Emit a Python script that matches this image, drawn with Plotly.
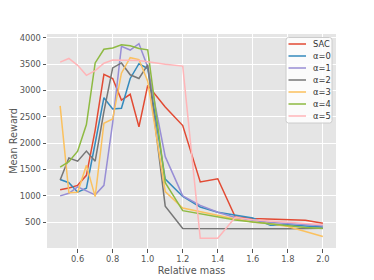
import plotly.graph_objects as go

relative_mass = [0.5, 0.55, 0.6, 0.65, 0.7, 0.75, 0.8, 0.85, 0.9, 0.95, 1.0,
                 1.1, 1.2, 1.3, 1.4, 1.5, 1.6, 1.7, 1.8, 1.9, 2.0]

sac = [1115, 1150, 1200, 1390, 2250, 3310, 3230, 2820, 2930, 2310, 3100,
       2690, 2335, 1265, 1325, 600, 570, 560, 545, 538, 478]
alpha0 = [1310, 1250, 1070, 1145, 2000, 2865, 2650, 2665, 3230, 3510, 3420,
          1320, 990, 790, 690, 638, 580, 440, 452, 430, 408]
alpha1 = [1000, 1050, 1170, 1100, 1020, 1200, 2390, 3840, 3770, 3890, 3450,
          1745, 1000, 820, 690, 590, 535, 495, 468, 455, 435]
alpha2 = [1300, 1720, 1660, 1850, 1660, 2600, 3430, 3525, 3300, 3230, 3490,
          805, 382, 378, 376, 375, 375, 376, 378, 380, 385]
alpha3 = [2710, 1060, 1070, 1580, 985, 2380, 2460, 3330, 3625, 3590, 3180,
          1080, 770, 700, 625, 562, 505, 470, 420, 320, 228]
alpha4 = [1545, 1650, 1850, 2355, 3525, 3785, 3810, 3870, 3850, 3800, 3775,
          1250, 720, 660, 590, 540, 505, 470, 425, 400, 382]
alpha5 = [3540, 3610, 3480, 3290, 3380, 3520, 3580, 3580, 3580, 3570, 3550,
          3500, 3465, 195, 195, 595, 545, 520, 500, 480, 452]

series_names = ["SAC", "α=0", "α=1", "α=2", "α=3", "α=4", "α=5"]
series_values = [sac, alpha0, alpha1, alpha2, alpha3, alpha4, alpha5]
colors = ["#E24A33", "#348ABD", "#988ED5", "#777777", "#FBC15E", "#8EBA42", "#FFB5B8"]

x_ticks = [0.6, 0.8, 1.0, 1.2, 1.4, 1.6, 1.8, 2.0]
x_tick_labels = ["0.6", "0.8", "1.0", "1.2", "1.4", "1.6", "1.8", "2.0"]
y_ticks = [500, 1000, 1500, 2000, 2500, 3000, 3500, 4000]

fig = go.Figure()
for name, vals, col in zip(series_names, series_values, colors):
    fig.add_trace(go.Scatter(x=relative_mass, y=vals, mode="lines", name=name,
                             line=dict(color=col, width=1.5), showlegend=False))

# Page has an 8px body margin; compensate so plot area sits at x 47..336, y 34..248
PAD = 8
W, H = 374, 280
L, R, T, B = 47 - PAD, W - (336 - PAD), 34 - PAD, H - (248 - PAD)
plot_w = W - L - R
plot_h = H - T - B

def px_x(px):
    return (px - 47) / plot_w

def px_y(py):
    return (248 - py) / plot_h

# Custom compact legend (matplotlib-like), rounded box
bx0, bx1, by0, by1, rr = 286, 332, 37.5, 123, 2.5
path = (f"M {px_x(bx0 + rr)},{px_y(by0)} L {px_x(bx1 - rr)},{px_y(by0)} "
        f"Q {px_x(bx1)},{px_y(by0)} {px_x(bx1)},{px_y(by0 + rr)} "
        f"L {px_x(bx1)},{px_y(by1 - rr)} Q {px_x(bx1)},{px_y(by1)} {px_x(bx1 - rr)},{px_y(by1)} "
        f"L {px_x(bx0 + rr)},{px_y(by1)} Q {px_x(bx0)},{px_y(by1)} {px_x(bx0)},{px_y(by1 - rr)} "
        f"L {px_x(bx0)},{px_y(by0 + rr)} Q {px_x(bx0)},{px_y(by0)} {px_x(bx0 + rr)},{px_y(by0)} Z")
shapes = [dict(type="path", xref="paper", yref="paper", path=path,
               fillcolor="rgba(255,255,255,0.85)", line=dict(color="#cccccc", width=1),
               layer="above")]
annotations = []
for i, (name, col) in enumerate(zip(series_names, colors)):
    yc = 44 + i * 12
    shapes.append(dict(type="line", xref="paper", yref="paper",
                       x0=px_x(288.5), x1=px_x(306), y0=px_y(yc), y1=px_y(yc),
                       line=dict(color=col, width=1.5), layer="above"))
    annotations.append(dict(xref="paper", yref="paper", x=px_x(311.5), y=px_y(yc),
                            xanchor="left", yanchor="middle", text=name, showarrow=False,
                            font=dict(size=8.3, color="#333333"), borderpad=0))

fig.update_layout(
    width=W, height=H,
    margin=dict(l=L, r=R, t=T, b=B, autoexpand=False),
    paper_bgcolor="white",
    plot_bgcolor="#E5E5E5",
    font=dict(family="DejaVu Sans", size=8.3, color="#555555"),
    showlegend=False,
    shapes=shapes,
    annotations=annotations,
    xaxis=dict(range=[0.425, 2.075], tickvals=x_ticks, ticktext=x_tick_labels,
               showgrid=True, gridcolor="white", gridwidth=1, zeroline=False,
               ticks="outside", ticklen=3.5, tickcolor="#555555", automargin=False,
               tickfont=dict(size=8.3, color="#555555"),
               title=dict(text="Relative mass", font=dict(size=9.7, color="#555555"), standoff=3)),
    yaxis=dict(range=[10, 4075], tickvals=y_ticks,
               showgrid=True, gridcolor="white", gridwidth=1, zeroline=False,
               ticks="outside", ticklen=3.5, tickcolor="#555555", automargin=False,
               tickfont=dict(size=8.3, color="#555555"),
               title=dict(text="Mean Reward", font=dict(size=9.7, color="#555555"), standoff=3)),
)

fig.write_html("out.html")
